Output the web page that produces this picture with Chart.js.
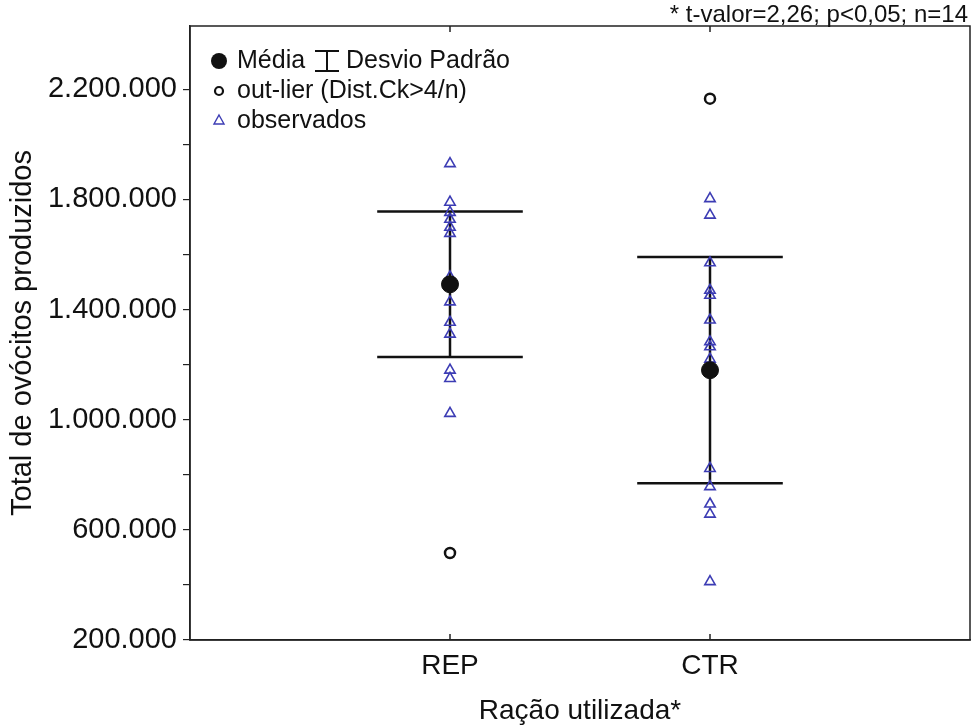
<!DOCTYPE html>
<html>
<head>
<meta charset="utf-8">
<script src="https://cdn.jsdelivr.net/npm/chart.js@4.4.1/dist/chart.umd.min.js"></script>
<style>
  html, body { margin: 0; padding: 0; background: #fff; }
  #wrap { width: 972px; height: 728px; }
</style>
</head>
<body>
<div id="wrap"><canvas id="ovocitos-chart" width="972" height="728"></canvas></div>
<script>
const categories = ['REP', 'CTR'];
const repObs = [1930000, 1790000, 1753000, 1728000, 1699000, 1677000, 1519000, 1428000, 1354000, 1311000, 1180000, 1150000, 1023000];
const ctrObs = [1803000, 1743000, 1570000, 1470000, 1452000, 1362000, 1283000, 1265000, 1220000, 823000, 757000, 694000, 657000, 412000];
const means = [1492000, 1180000];
const desvios = [264000, 411000];
const outliers = [516000, 2166000];
const yTicks = [200000, 600000, 1000000, 1400000, 1800000, 2200000];

const ink = '#111';
const triColor = '#3c3cb4';
const capHalf = 0.28;
const family = '"Liberation Sans", Arial, sans-serif';

function fmt(v) {
  return String(v).replace(/\B(?=(\d{3})+(?!\d))/g, '.');
}

let datasets = [];

// desvio padrão: vertical line + the two caps
categories.forEach((c, i) => {
  const x = i + 1;
  const lo = means[i] - desvios[i];
  const hi = means[i] + desvios[i];
  [[{x: x, y: lo}, {x: x, y: hi}],
   [{x: x - capHalf, y: hi}, {x: x + capHalf, y: hi}],
   [{x: x - capHalf, y: lo}, {x: x + capHalf, y: lo}]].forEach(seg => {
    datasets.push({
      type: 'line', data: seg, borderColor: ink, borderWidth: 2.5,
      pointRadius: 0, fill: false, order: 3,
    });
  });
});

datasets.push({
  label: 'observados',
  data: repObs.map(v => ({x: 1, y: v})).concat(ctrObs.map(v => ({x: 2, y: v}))),
  pointStyle: 'triangle', pointRadius: 6, borderColor: triColor,
  backgroundColor: 'rgba(255,255,255,0)', borderWidth: 1.6, order: 2,
});

datasets.push({
  label: 'out-lier',
  data: outliers.map((v, i) => ({x: i + 1, y: v})),
  pointStyle: 'circle', pointRadius: 5, borderColor: ink,
  backgroundColor: '#fff', borderWidth: 2.5, order: 1,
});

datasets.push({
  label: 'Média',
  data: means.map((v, i) => ({x: i + 1, y: v})),
  pointStyle: 'circle', pointRadius: 8.5, borderColor: ink,
  backgroundColor: ink, borderWidth: 1, order: 0,
});

const frame = {
  id: 'frame',
  afterDraw(chart) {
    const ctx = chart.ctx;
    const a = chart.chartArea;
    const xs = chart.scales.x;
    ctx.save();
    ctx.strokeStyle = '#222';
    ctx.lineWidth = 1.5;
    ctx.strokeRect(a.left, a.top, a.right - a.left, a.bottom - a.top);
    // inner ticks on bottom and top
    categories.forEach((c, i) => {
      const px = xs.getPixelForValue(i + 1);
      ctx.beginPath();
      ctx.moveTo(px, a.bottom); ctx.lineTo(px, a.bottom - 6);
      ctx.moveTo(px, a.top); ctx.lineTo(px, a.top + 6);
      ctx.stroke();
    });

    // legend
    const lx = a.left + 29;
    ctx.font = '25px ' + family;
    ctx.fillStyle = ink;
    ctx.textBaseline = 'middle';
    ctx.beginPath();
    ctx.arc(lx, a.top + 35, 8, 0, Math.PI * 2);
    ctx.fill();
    ctx.fillText('Média', lx + 18, a.top + 35);
    const bx = lx + 108;
    ctx.strokeStyle = ink;
    ctx.lineWidth = 2;
    ctx.beginPath();
    ctx.moveTo(bx - 12, a.top + 25); ctx.lineTo(bx + 12, a.top + 25);
    ctx.moveTo(bx, a.top + 25); ctx.lineTo(bx, a.top + 45);
    ctx.moveTo(bx - 12, a.top + 45); ctx.lineTo(bx + 12, a.top + 45);
    ctx.stroke();
    ctx.fillText('Desvio Padrão', bx + 19, a.top + 35);

    ctx.lineWidth = 2.2;
    ctx.beginPath();
    ctx.arc(lx, a.top + 65, 4, 0, Math.PI * 2);
    ctx.stroke();
    ctx.fillText('out-lier (Dist.Ck>4/n)', lx + 18, a.top + 65);

    ctx.strokeStyle = triColor;
    ctx.lineWidth = 1.4;
    ctx.beginPath();
    ctx.moveTo(lx, a.top + 89); ctx.lineTo(lx + 5, a.top + 98); ctx.lineTo(lx - 5, a.top + 98);
    ctx.closePath();
    ctx.stroke();
    ctx.fillText('observados', lx + 18, a.top + 95);

    // test note
    ctx.font = '24px ' + family;
    ctx.textAlign = 'right';
    ctx.fillText('* t-valor=2,26; p<0,05; n=14', 968, 15);
    ctx.restore();
  }
};

const config = {
  type: 'scatter',
  data: { datasets: datasets },
  options: {
    responsive: false,
    animation: false,
    layout: { autoPadding: false, padding: { top: 26, right: 2, left: 0, bottom: 0 } },
    plugins: { legend: { display: false }, tooltip: { enabled: false } },
    scales: {
      x: {
        type: 'linear', min: 0, max: 3,
        afterBuildTicks: s => { s.ticks = categories.map((c, i) => ({value: i + 1})); },
        afterFit: s => { s.height = 88; s.paddingLeft = 0; s.paddingRight = 0; },
        ticks: {
          callback: v => categories[v - 1] || '',
          color: ink, padding: 9,
          font: { family: family, size: 28 },
        },
        grid: { drawOnChartArea: false, drawTicks: false },
        border: { color: '#222', width: 1.5 },
        title: {
          display: true, text: 'Ração utilizada*', color: ink,
          font: { family: family, size: 28 },
          padding: { top: 0, bottom: 0 },
        },
      },
      y: {
        type: 'linear', min: 200000, max: 2430000,
        afterBuildTicks: s => {
          const t = [];
          for (let v = 200000; v <= 2200000; v += 200000) t.push({value: v});
          s.ticks = t;
        },
        afterFit: s => { s.width = 190; },
        ticks: {
          callback: v => yTicks.includes(v) ? fmt(v) : '',
          color: ink, padding: 6,
          font: { family: family, size: 29 },
        },
        grid: { drawOnChartArea: false, drawTicks: true, tickLength: 7, color: '#222', lineWidth: 1.2 },
        border: { color: '#222', width: 1.5 },
        title: {
          display: true, text: 'Total de ovócitos produzidos', color: ink,
          font: { family: family, size: 29 },
          padding: { top: 6, bottom: 0 },
        },
      },
    },
  },
  plugins: [frame],
};

let chart = new Chart(document.querySelector('#ovocitos-chart'), config);
</script>
</body>
</html>
